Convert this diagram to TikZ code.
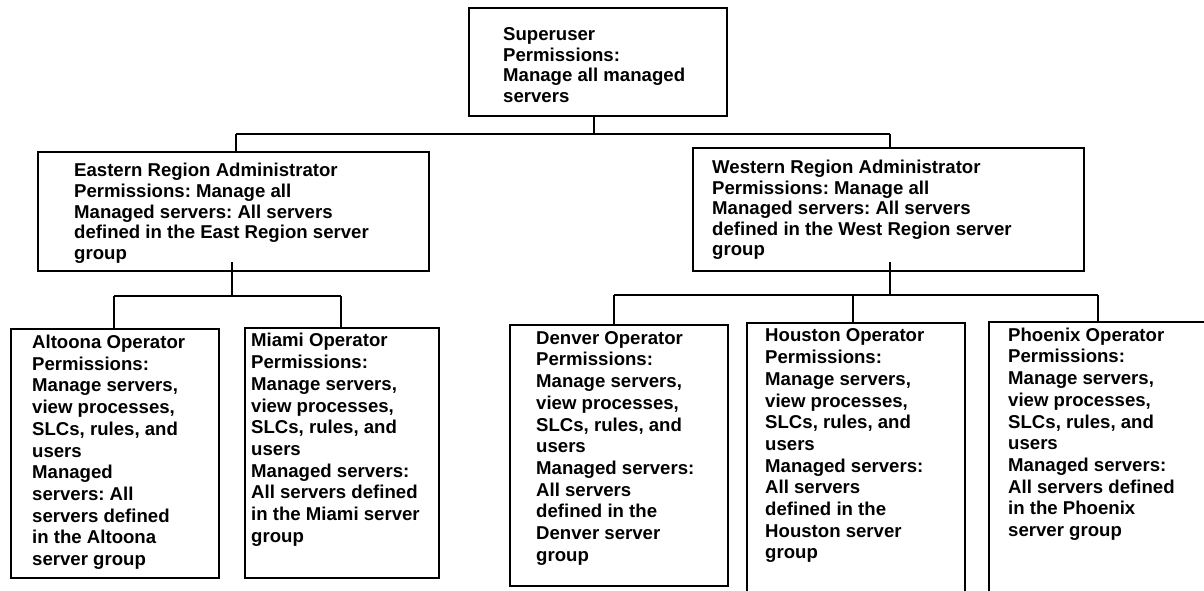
\documentclass[tikz,border=0pt]{standalone}
\usepackage{fontspec}
\setmainfont{Liberation Sans}
\frenchspacing
\newcommand{\mystrut}{\rule{0pt}{14pt}}
\begin{document}
\begin{tikzpicture}[x=1pt,y=-1pt,
  box/.style={draw,line width=1.8pt,inner sep=0pt,anchor=north west},
  conn/.style={line width=1.8pt},
  thinconn/.style={line width=1.3pt},
  txt/.style={anchor=north west,inner sep=0pt,align=left},
  ttop/.style={txt,font=\fontsize{18.6}{20.6}\selectfont\bfseries},
  tbot/.style={txt,font=\fontsize{18.6}{21.7}\selectfont\bfseries}]
\useasboundingbox (0,0) rectangle (1204,590);
\clip (0,0) rectangle (1204,590);
% boxes
\node[box,minimum width=258pt,minimum height=108pt] (su) at (468,7) {};
\node[box,minimum width=391pt,minimum height=119pt] (east) at (37,151) {};
\node[box,minimum width=391pt,minimum height=123pt] (west) at (692,147) {};
\node[box,minimum width=208pt,minimum height=249pt] (alt) at (10,328) {};
\node[box,minimum width=194pt,minimum height=250pt] (mia) at (244,327) {};
\node[box,minimum width=218pt,minimum height=261pt] (den) at (509,324) {};
\node[box,minimum width=218pt,minimum height=290pt] (hou) at (746,322) {};
\node[box,minimum width=240pt,minimum height=290pt] (pho) at (988,321) {};
% texts
\node[ttop] (sut) at (503,26.5) {\mystrut Superuser\\Permissions:\\Manage all managed\\servers};
\node[ttop] (eastt) at (74,162.7) {\mystrut Eastern Region Administrator\\Permissions: Manage all\\Managed servers: All servers\\defined in the East Region server\\group};
\node[ttop] (westt) at (712,159.3) {\mystrut Western Region Administrator\\Permissions: Manage all\\Managed servers: All servers\\defined in the West Region server\\group};
\node[tbot] (altt) at (32,334.3) {\mystrut Altoona Operator\\Permissions:\\Manage servers,\\view processes,\\SLCs, rules, and\\users\\Managed\\servers: All\\servers defined\\in the Altoona\\server group};
\node[tbot] (miat) at (251,332.7) {\mystrut Miami Operator\\Permissions:\\Manage servers,\\view processes,\\SLCs, rules, and\\users\\Managed servers:\\All servers defined\\in the Miami server\\group};
\node[tbot] (dent) at (536,330) {\mystrut Denver Operator\\Permissions:\\Manage servers,\\view processes,\\SLCs, rules, and\\users\\Managed servers:\\All servers\\defined in the\\Denver server\\group};
\node[tbot] (hout) at (765,327.7) {\mystrut Houston Operator\\Permissions:\\Manage servers,\\view processes,\\SLCs, rules, and\\users\\Managed servers:\\All servers\\defined in the\\Houston server\\group};
\node[tbot] (phot) at (1008,327) {\mystrut Phoenix Operator\\Permissions:\\Manage servers,\\view processes,\\SLCs, rules, and\\users\\Managed servers:\\All servers defined\\in the Phoenix\\server group};
% connectors: top level
\coordinate (jL) at (236,134);
\coordinate (jR) at (890,134);
\coordinate (jS) at (594,134);
\draw[conn] (su.south -| jS) -- (jS);
\draw[conn] (jL) -- (jR);
\draw[conn] (jL) -- (jL |- east.north);
\draw[conn] (jR) -- (jR |- west.north);
% east subtree
\coordinate (eS) at (232,262);
\coordinate (eA) at (114,296);
\coordinate (eB) at (341,296);
\draw[conn] (eS) -- (eS |- eA);
\draw[thinconn] (eA) -- (eB);
\draw[conn] (eA) -- (eA |- alt.north);
\draw[conn] (eB) -- (eB |- mia.north);
% west subtree
\coordinate (wS) at (890,262);
\coordinate (wA) at (614,295);
\coordinate (wM) at (853,295);
\coordinate (wB) at (1098,295);
\draw[conn] (wS) -- (wS |- wA);
\draw[conn] (wA) -- (wB);
\draw[conn] (wA) -- (wA |- den.north);
\draw[conn] (wM) -- (wM |- hou.north);
\draw[conn] (wB) -- (wB |- pho.north);
\end{tikzpicture}
\end{document}
